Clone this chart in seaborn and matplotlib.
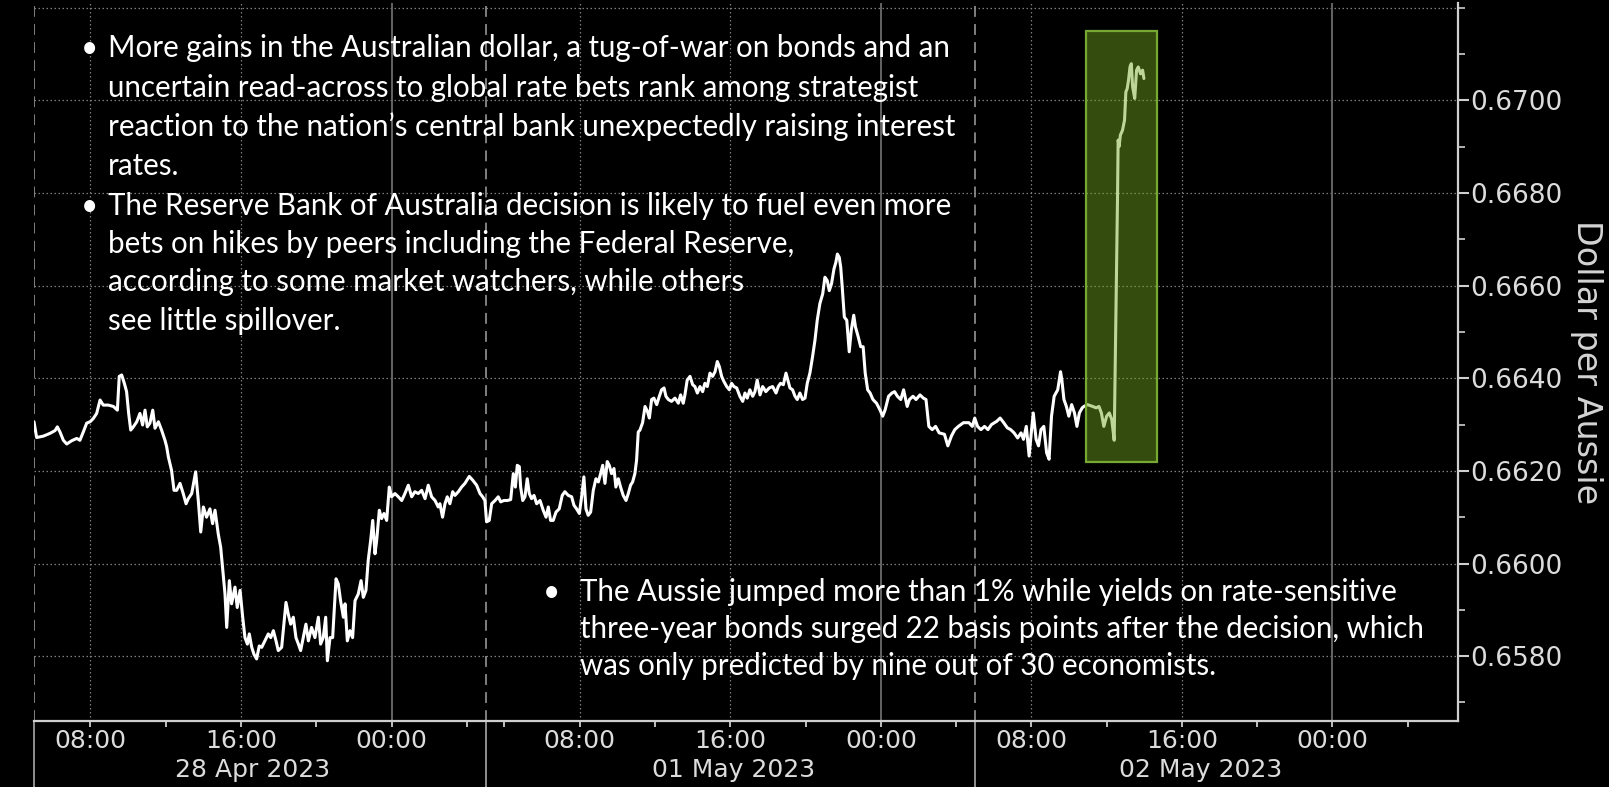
import numpy as np
import pandas as pd
import matplotlib
matplotlib.use("Agg")
import matplotlib.pyplot as plt
from matplotlib.patches import Rectangle
from matplotlib.ticker import FixedLocator, FuncFormatter
import seaborn as sns

# AUD/USD intraday, x = hours on a weekend-compressed axis (0 = 28 Apr 05:00,
# 24 = session break / 01 May 03:00, 50 = 02 May 05:00)
APR28 = [
    (0.00, .66306), (0.14, .66272), (0.50, .66275), (0.85, .66281), (1.12, .66287),
    (1.24, .66295), (1.38, .66284), (1.56, .66266), (1.74, .66258), (2.00, .66265),
    (2.27, .66270), (2.44, .66266), (2.62, .66284), (2.80, .66303), (2.98, .66306),
    (3.15, .66313), (3.33, .66324), (3.51, .66353), (3.68, .66342), (3.95, .66342),
    (4.22, .66339), (4.43, .66331), (4.53, .66404), (4.66, .66407), (4.80, .66389),
    (4.92, .66371), (5.03, .66324), (5.14, .66288), (5.28, .66295), (5.46, .66306),
    (5.63, .66324), (5.77, .66299), (5.90, .66331), (6.02, .66295), (6.16, .66303),
    (6.31, .66331), (6.43, .66292), (6.61, .66306), (6.78, .66288), (6.96, .66266),
    (7.05, .66252), (7.14, .66230), (7.31, .66201), (7.44, .66158), (7.58, .66158),
    (7.76, .66173), (7.93, .66151), (8.08, .66129), (8.20, .66140), (8.38, .66151),
    (8.59, .66198), (8.73, .66136), (8.86, .66068), (9.00, .66122), (9.17, .66100),
    (9.35, .66118), (9.49, .66086), (9.62, .66115), (9.79, .66064), (9.92, .66035),
    (10.02, .65992), (10.15, .65934), (10.24, .65862), (10.38, .65963), (10.50, .65913),
    (10.68, .65949), (10.80, .65905), (10.95, .65942),
    (11.09, .65884), (11.21, .65840), (11.34, .65826), (11.44, .65848), (11.57, .65819),
    (11.69, .65804), (11.83, .65794), (11.97, .65822), (12.10, .65819), (12.27, .65833),
    (12.45, .65848), (12.58, .65840), (12.72, .65855), (12.86, .65833), (12.98, .65812),
    (13.16, .65819), (13.39, .65916), (13.51, .65891), (13.64, .65869), (13.78, .65884),
    (13.92, .65840), (14.05, .65826), (14.17, .65812), (14.31, .65840), (14.45, .65869),
    (14.58, .65833), (14.75, .65862), (14.93, .65840), (15.11, .65884), (15.23, .65826),
    (15.37, .65840), (15.50, .65884), (15.59, .65790), (15.73, .65840), (15.87, .65840),
    (16.05, .65967), (16.17, .65956), (16.29, .65920), (16.44, .65884), (16.53, .65913),
    (16.65, .65833), (16.79, .65855), (16.93, .65840), (17.06, .65920), (17.23, .65934),
    (17.38, .65963), (17.50, .65927), (17.64, .65942), (17.76, .66007), (17.89, .66050),
    (18.00, .66093), (18.12, .66021), (18.21, .66050), (18.35, .66115), (18.47, .66097),
    (18.60, .66108), (18.74, .66093), (18.88, .66165), (19.00, .66144), (19.18, .66151),
    (19.36, .66144), (19.54, .66136), (19.71, .66151), (19.89, .66169), (20.07, .66144),
    (20.24, .66155), (20.42, .66151), (20.60, .66158), (20.78, .66140), (20.95, .66169),
    (21.13, .66144), (21.31, .66136), (21.48, .66122), (21.57, .66129),
    (21.71, .66100), (21.84, .66129), (21.96, .66144), (22.10, .66129), (22.25, .66155),
    (22.37, .66147), (22.55, .66155), (22.72, .66165), (22.90, .66173), (23.13, .66188),
    (23.31, .66180), (23.52, .66169), (23.70, .66151), (23.84, .66144), (23.96, .66136),
]

MAY01 = [
    (24.05, .66090), (24.19, .66093), (24.32, .66129), (24.50, .66136), (24.67, .66144),
    (24.80, .66133), (24.97, .66136), (25.15, .66136), (25.33, .66138), (25.47, .66194),
    (25.58, .66165), (25.68, .66212), (25.79, .66209), (25.86, .66165), (25.97, .66136),
    (26.09, .66144), (26.21, .66183), (26.32, .66151), (26.44, .66140), (26.57, .66147),
    (26.71, .66129), (26.89, .66136), (27.06, .66115), (27.21, .66100), (27.33, .66122),
    (27.45, .66093), (27.59, .66093), (27.74, .66111), (27.91, .66118), (28.07, .66147),
    (28.21, .66155), (28.39, .66147), (28.57, .66144), (28.69, .66126), (28.83, .66118),
    (28.98, .66108), (29.10, .66144), (29.22, .66187), (29.33, .66118), (29.45, .66104),
    (29.58, .66111), (29.72, .66158), (29.86, .66183), (29.99, .66176), (30.11, .66194),
    (30.22, .66212), (30.34, .66173), (30.46, .66220), (30.57, .66212), (30.69, .66194),
    (30.82, .66205), (30.92, .66165), (31.05, .66183), (31.17, .66165), (31.31, .66147),
    (31.46, .66136), (31.58, .66151), (31.70, .66169), (31.81, .66176), (31.93, .66194),
    (32.02, .66223), (32.11, .66284), (32.20, .66288),
    (32.34, .66304), (32.47, .66339), (32.59, .66329), (32.70, .66314), (32.82, .66354),
    (32.94, .66357), (33.09, .66343), (33.23, .66361), (33.35, .66375), (33.48, .66379),
    (33.58, .66361), (33.71, .66354), (33.88, .66350), (34.06, .66357), (34.24, .66346),
    (34.36, .66364), (34.50, .66346), (34.59, .66364), (34.71, .66396), (34.86, .66404),
    (35.00, .66386), (35.12, .66382), (35.25, .66368), (35.39, .66382), (35.53, .66371),
    (35.65, .66389), (35.78, .66382), (35.92, .66411), (36.06, .66404), (36.19, .66414),
    (36.31, .66436), (36.42, .66425), (36.54, .66404), (36.66, .66393), (36.81, .66382),
    (36.95, .66375), (37.07, .66389), (37.19, .66382), (37.34, .66379), (37.51, .66361),
    (37.66, .66350), (37.78, .66368), (37.90, .66357), (38.04, .66375), (38.19, .66361),
    (38.31, .66371), (38.43, .66396), (38.58, .66364), (38.72, .66382), (38.89, .66371),
    (39.07, .66379), (39.25, .66382), (39.43, .66368), (39.55, .66382), (39.67, .66389),
    (39.82, .66386), (39.96, .66411), (40.08, .66393), (40.17, .66379), (40.31, .66375),
    (40.44, .66361), (40.56, .66354), (40.70, .66368), (40.84, .66354), (40.97, .66357),
    (41.09, .66389), (41.23, .66411), (41.37, .66446), (41.50, .66482), (41.62, .66525),
    (41.76, .66561), (41.91, .66582), (42.03, .66618), (42.15, .66611), (42.26, .66589),
    (42.38, .66604), (42.51, .66636), (42.61, .66650), (42.69, .66668), (42.79, .66661),
    (42.87, .66639), (42.95, .66596), (43.06, .66532), (43.19, .66525), (43.32, .66457),
    (43.43, .66504), (43.56, .66536), (43.65, .66511), (43.80, .66489), (43.93, .66468),
    (44.06, .66468), (44.17, .66411), (44.30, .66375), (44.43, .66368), (44.58, .66354),
    (44.77, .66346), (44.95, .66332), (45.10, .66318), (45.23, .66332), (45.41, .66361),
    (45.59, .66368), (45.73, .66371), (45.88, .66361), (46.06, .66354), (46.21, .66375),
    (46.40, .66339), (46.52, .66354), (46.71, .66361), (46.87, .66354), (47.08, .66364),
    (47.26, .66357), (47.40, .66354), (47.55, .66296), (47.73, .66289), (47.91, .66296),
    (48.10, .66282), (48.38, .66279), (48.56, .66254), (48.75, .66275), (48.93, .66289),
    (49.12, .66296), (49.39, .66304), (49.68, .66304), (49.86, .66296),
]

MAY02 = [
    (49.99, .66314), (50.14, .66296), (50.32, .66289), (50.51, .66296), (50.69, .66289),
    (50.88, .66300), (51.16, .66307), (51.34, .66314), (51.53, .66304), (51.72, .66293),
    (51.90, .66289), (52.08, .66282), (52.27, .66271), (52.45, .66282), (52.58, .66268),
    (52.73, .66296), (52.88, .66232), (53.01, .66289), (53.10, .66325), (53.25, .66268),
    (53.38, .66254), (53.51, .66289), (53.66, .66296), (53.81, .66239), (53.94, .66225),
    (54.07, .66318), (54.21, .66361), (54.40, .66375), (54.55, .66414), (54.62, .66396),
    (54.73, .66354), (54.86, .66339), (54.99, .66318), (55.14, .66343), (55.29, .66325),
    (55.42, .66296), (55.55, .66325), (55.70, .66336), (55.79, .66339), (55.98, .66343),
    (56.26, .66339), (56.44, .66336), (56.59, .66339), (56.72, .66325), (56.85, .66296),
    (57.00, .66318), (57.14, .66325), (57.27, .66311), (57.40, .66266),
    (57.54, .66670), (57.58, .66799), (57.61, .66914), (57.66, .66900), (57.73, .66925),
    (57.84, .66935), (57.95, .66957), (58.02, .67018), (58.09, .67025), (58.16, .67043),
    (58.24, .67072), (58.31, .67079), (58.38, .67029), (58.49, .67004), (58.59, .67065),
    (58.68, .67072), (58.80, .67057), (58.91, .67065), (58.98, .67047),
]

TIME_TICKS = [3, 11, 19, 29, 37, 45, 53, 61, 69]
TIME_LABELS = ["08:00", "16:00", "00:00"] * 3
MINOR_TIME_TICKS = [7, 15, 23, 25, 33, 41, 49, 57, 65, 73]
MIDNIGHTS = [19, 45, 69]
SESSION_BREAKS = [0, 24, 50]
DATE_LABELS = ["28 Apr 2023", "01 May 2023", "02 May 2023"]
DATE_POS = [11.6, 37.2, 62.0]
PRICE_TICKS = [0.6580, 0.6600, 0.6620, 0.6640, 0.6660, 0.6680, 0.6700]
PRICE_MINOR = [0.6570, 0.6590, 0.6610, 0.6630, 0.6650, 0.6670, 0.6690, 0.6710, 0.6720]
HIGHLIGHT_HOURS = (55.9, 59.67)
HIGHLIGHT_PRICE = (0.66219, 0.67149)

BULLETS_TOP = [
    ["More gains in the Australian dollar, a tug-of-war on bonds and an",
     "uncertain read-across to global rate bets rank among strategist",
     "reaction to the nation\u2019s central bank unexpectedly raising interest",
     "rates."],
    ["The Reserve Bank of Australia decision is likely to fuel even more",
     "bets on hikes by peers including the Federal Reserve,",
     "according to some market watchers, while others",
     "see little spillover."],
]
BULLET_BOTTOM = [
    "The Aussie jumped more than 1% while yields on rate-sensitive",
    "three-year bonds surged 22 basis points after the decision, which",
    "was only predicted by nine out of 30 economists.",
]

rows = []
for session, pts in [("28 Apr", APR28), ("01 May", MAY01), ("02 May", MAY02)]:
    for h, v in pts:
        rows.append({"hours": h, "aud": v, "session": session})
df = pd.DataFrame(rows)

sns.set_style("dark", {"axes.facecolor": "black", "figure.facecolor": "black"})
TEXT_FONT = ["Lato", "DejaVu Sans"]
NARROW_FONT = ["Liberation Sans Narrow", "DejaVu Sans"]

W, H = 1609, 787
fig = plt.figure(figsize=(W / 100, H / 100), dpi=100, facecolor="black")
ax = fig.add_axes([34 / W, 1 - 721 / H, (1458 - 34) / W, (721 - 3) / H])
ax.set_facecolor("black")

# grid
for y in PRICE_TICKS + [0.6720]:
    ax.axhline(y, color="#7c7c7c", lw=0.9, ls=(0, (1.2, 2.0)), zorder=1)
for x in TIME_TICKS:
    if x in MIDNIGHTS:
        ax.axvline(x, color="#6c6c6c", lw=1.3, zorder=1)
    else:
        ax.axvline(x, color="#7c7c7c", lw=0.9, ls=(0, (1.2, 2.0)), zorder=1)
for x in SESSION_BREAKS:
    ax.axvline(x, color="#8a8a8a", lw=1.3, ls=(0, (6, 4)), zorder=1)
    ax.plot([x, x], [0, -0.12], transform=ax.get_xaxis_transform(),
            color="#9a9a9a", lw=1.3, clip_on=False)

sns.lineplot(data=df, x="hours", y="aud", ax=ax, color="white", lw=2.2,
             estimator=None, sort=False, legend=False, zorder=3)

ax.add_patch(Rectangle((HIGHLIGHT_HOURS[0], HIGHLIGHT_PRICE[0]),
                       HIGHLIGHT_HOURS[1] - HIGHLIGHT_HOURS[0],
                       HIGHLIGHT_PRICE[1] - HIGHLIGHT_PRICE[0],
                       facecolor=(0.45, 0.66, 0.12, 0.46), edgecolor="#76a832",
                       lw=1.6, zorder=4))

ax.set_xlim(0, 75.67)
ax.set_ylim(0.6566, 0.6721)
ax.set_xlabel("")
ax.set_ylabel("")

for side in ["left", "top"]:
    ax.spines[side].set_visible(False)
for side in ["bottom", "right"]:
    ax.spines[side].set_visible(True)
    ax.spines[side].set_color("#cfcfcf")
    ax.spines[side].set_linewidth(1.6)

ax.yaxis.tick_right()
ax.yaxis.set_major_locator(FixedLocator(PRICE_TICKS))
ax.yaxis.set_minor_locator(FixedLocator(PRICE_MINOR))
ax.yaxis.set_major_formatter(FuncFormatter(lambda v, p: f"{v:.4f}"))
ax.tick_params(axis="y", which="major", right=True, left=False, length=8,
               width=1.5, color="#cfcfcf", labelcolor="#dcdcdc",
               labelsize=19, pad=1)
ax.tick_params(axis="y", which="minor", right=True, left=False, length=5,
               width=1.2, color="#cfcfcf")
for lab in ax.get_yticklabels():
    lab.set_family(["DejaVu Sans"])

ax.set_xticks(TIME_TICKS)
ax.set_xticklabels(TIME_LABELS)
ax.xaxis.set_minor_locator(FixedLocator(MINOR_TIME_TICKS))
ax.tick_params(axis="x", which="major", bottom=True, length=4, width=1.3,
               color="#cfcfcf", labelcolor="#dcdcdc", labelsize=18, pad=2)
ax.tick_params(axis="x", which="minor", bottom=True, length=4, width=1.3,
               color="#cfcfcf")
for lab in ax.get_xticklabels():
    lab.set_family(NARROW_FONT)

for pos, lab in zip(DATE_POS, DATE_LABELS):
    ax.text(pos, -0.068, lab, transform=ax.get_xaxis_transform(), ha="center",
            va="center", fontsize=18, color="#dcdcdc", family=NARROW_FONT)

fig.text(1586 / W, 1 - 362 / H, "Dollar per Aussie", rotation=270,
         ha="center", va="center", fontsize=24, color="#d4d4d4",
         family=NARROW_FONT)

# annotation text, size fitted to the reference line width
fig.canvas.draw()
renderer = fig.canvas.get_renderer()
probe = fig.text(0, 0, BULLETS_TOP[0][0], fontsize=20, family=TEXT_FONT)
size = 20 * 843 / probe.get_window_extent(renderer).width
probe.remove()


def put_lines(lines, x_bullet, x_text, y_first, step):
    for i, line in enumerate(lines):
        y = 1 - (y_first + i * step) / H
        if i == 0:
            fig.text(x_bullet / W, y, "\u2022", fontsize=size, color="white",
                     family=TEXT_FONT, va="center_baseline", ha="center",
                     zorder=6)
        fig.text(x_text / W, y, line, fontsize=size, color="white",
                 family=TEXT_FONT, va="center_baseline", ha="left", zorder=6)


put_lines(BULLETS_TOP[0], 90, 108, 46, 39.2)
put_lines(BULLETS_TOP[1], 90, 108, 203, 38.5)
put_lines(BULLET_BOTTOM, 552, 580, 589, 37.5)

fig.savefig("out.png", dpi=100, facecolor="black")
